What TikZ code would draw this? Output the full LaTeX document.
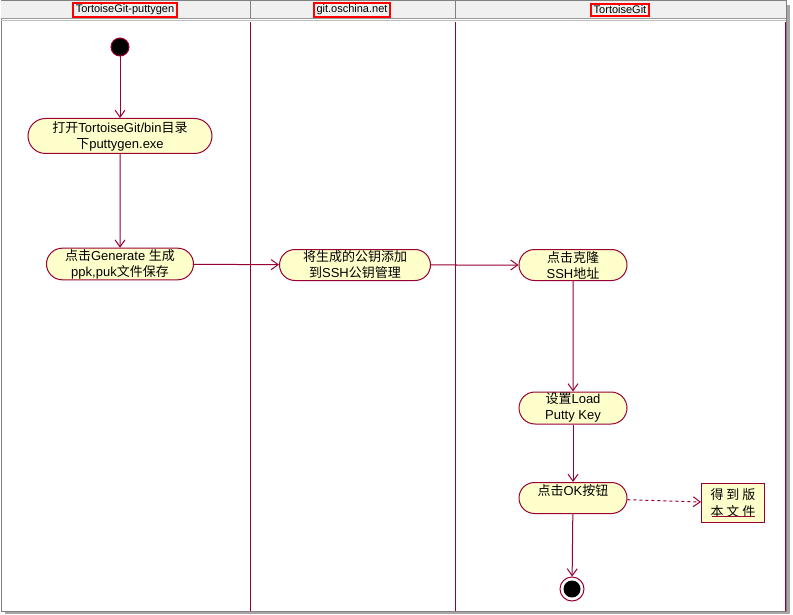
\documentclass[tikz,border=0pt]{standalone}
\usepackage{fontspec}
\setmainfont{Liberation Sans}
\newfontfamily\cjk{Noto Sans CJK SC}
\usepackage{xcolor}
\usepackage{tikz}
\usetikzlibrary{arrows.meta, shapes.misc, positioning}
\definecolor{lanered}{HTML}{990033}
\definecolor{actfill}{HTML}{FFFFCC}
\definecolor{headgray}{HTML}{F0F0F0}

\begin{document}
\begin{tikzpicture}[
  x=1pt, y=-1pt, line width=1pt,
  act/.style={rounded rectangle, draw=lanered, fill=actfill, align=center,
    inner sep=1pt, font=\fontsize{13}{16}\selectfont},
  lanehead/.style={draw=red, line width=2pt, inner xsep=3pt, inner ysep=1.5pt,
    font=\fontsize{11}{12}\selectfont},
  objbox/.style={rectangle, draw=lanered, fill=actfill, align=center,
    inner sep=1pt, font=\fontsize{13}{17}\selectfont},
  arr/.style={draw=lanered, -{Straight Barb[length=7pt, width=10pt]}}
]
\useasboundingbox (0,0) rectangle (793,615);
% frame and header
\fill[gray!70] (5,5) rectangle (790,614);
\draw[gray, fill=white] (1,1) rectangle (786,611);
\fill[headgray] (1,1) rectangle (786,19);
\draw[gray!80] (1,19) -- (786,19);
\draw[gray!50] (1,21) -- (786,21);
\draw[gray] (250,1) -- (250,19);
\draw[gray] (455,1) -- (455,19);
% swimlanes
\draw[lanered] (250,22) -- (250,611);
\draw[lanered] (455,22) -- (455,611);
\draw[lanered] (785,22) -- (785,611);
\node[lanehead] (puttygen) at (125,10) {TortoiseGit-puttygen};
\node[lanehead] (oschina) at (352,10) {git.oschina.net};
\node[lanehead] (tortoise) at (620,10) {TortoiseGit};

% activities
\node[circle, fill=black, draw=lanered, minimum size=18, inner sep=0] (start) at (120,47) {};
\node[act, minimum width=186, minimum height=35] (open) at (120,136)
  {{\cjk 打开}TortoiseGit/bin{\cjk 目录}\\{\cjk 下}puttygen.exe};
\node[act, minimum width=149, minimum height=31] (gen) at (120,264)
  {{\cjk 点击}Generate {\cjk 生成}\\ppk,puk{\cjk 文件保存}};
\node[act, minimum width=153, minimum height=31] (addkey) at (355,265)
  {{\cjk 将生成的公钥添加}\\{\cjk 到}SSH{\cjk 公钥管理}};
\node[act, minimum width=110, minimum height=31] (clone) at (573,265)
  {{\cjk 点击克隆}\\SSH{\cjk 地址}};
\node[act, minimum width=110, minimum height=32] (load) at (573,408)
  {{\cjk 设置}Load\\Putty Key};
\node[act, minimum width=110, minimum height=31] (ok) at (573,498)
  {{\cjk 点击}OK{\cjk 按钮}\\~};
\node[objbox, minimum width=63, minimum height=39] (result) at (733,503)
  {{\cjk 得\hspace{3pt}到\hspace{3pt}版}\\{\cjk 本\hspace{3pt}文\hspace{3pt}件}};
\draw[lanered] ([xshift=11pt, yshift=7pt]result.south west)
  -- ([xshift=-10pt, yshift=7pt]result.south east);
\node[circle, draw=lanered, minimum size=24, inner sep=0] (stop) at (572,589) {};
\node[circle, fill=black, minimum size=17, inner sep=0] (stopdot) at (stop) {};

% flows
\draw[arr] (start) -- (open);
\draw[arr] (open) -- (gen);
\draw[arr] (gen) -- (addkey);
\draw[arr] (addkey) -- (clone);
\draw[arr] (clone) -- (load);
\draw[arr] (load) -- (ok);
\draw[arr] (ok) -- (stop);
\draw[arr, dash pattern=on 3pt off 3pt] (ok) -- (result);
\end{tikzpicture}
\end{document}
